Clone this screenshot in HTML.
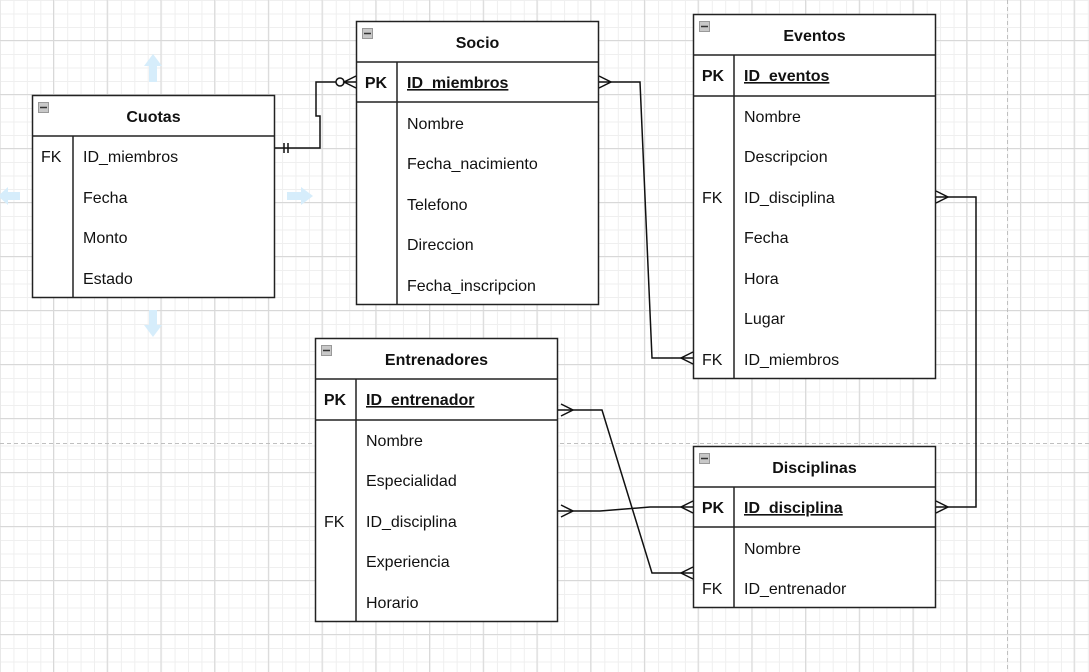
<!DOCTYPE html>
<html><head><meta charset="utf-8"><style>
html,body{margin:0;padding:0;background:#fff;}
svg{display:block;font-family:"Liberation Sans",Arial,sans-serif;}
</style></head><body>
<svg width="1089" height="672" viewBox="0 0 1089 672" xmlns="http://www.w3.org/2000/svg">
<defs>
<pattern id="minor" patternUnits="userSpaceOnUse" x="0" y="0" width="13.43" height="13.5">
<path d="M0.5 0V13.5M0 0.5H13.43" stroke="#efefef" stroke-width="1" fill="none"/>
</pattern>
<pattern id="major" patternUnits="userSpaceOnUse" x="53" y="40" width="53.72" height="54">
<path d="M0.5 0V54M0 0.5H53.72" stroke="#d8d8d8" stroke-width="1" fill="none"/>
</pattern>
</defs>
<rect width="1089" height="672" fill="#fff"/>
<rect width="1089" height="672" fill="url(#minor)"/>
<rect width="1089" height="672" fill="url(#major)"/>
<line x1="0" y1="443.5" x2="1089" y2="443.5" stroke="#c0c0c0" stroke-dasharray="4,3"/>
<line x1="1007.5" y1="0" x2="1007.5" y2="672" stroke="#c0c0c0" stroke-dasharray="4,3"/>

<!-- hover arrows -->
<g fill="#d6edfb">
<path d="M149 82V66h-5l9-12 9 12h-5v16z"/>
<path d="M287 192h14v-5l12 9-12 9v-5h-14z"/>
<path d="M149 310v15h-5l9 12 9-12h-5v-15z"/>
<path d="M20 192H8v-5l-10 9 10 9v-5h12z"/>
</g>

<g fill="#fff" stroke="#222" stroke-width="1.5">
<!-- Cuotas -->
<rect x="32.5" y="95.5" width="242" height="202"/>
<line x1="32.5" y1="136" x2="274.5" y2="136"/>
<line x1="73" y1="136" x2="73" y2="297.5"/>
<!-- Socio -->
<rect x="356.5" y="21.5" width="242" height="283"/>
<line x1="356.5" y1="62" x2="598.5" y2="62"/>
<line x1="356.5" y1="102" x2="598.5" y2="102"/>
<line x1="397" y1="62" x2="397" y2="304.5"/>
<!-- Eventos -->
<rect x="693.5" y="14.5" width="242" height="364"/>
<line x1="693.5" y1="55" x2="935.5" y2="55"/>
<line x1="693.5" y1="96" x2="935.5" y2="96"/>
<line x1="734" y1="55" x2="734" y2="378.5"/>
<!-- Entrenadores -->
<rect x="315.5" y="338.5" width="242" height="283"/>
<line x1="315.5" y1="379" x2="557.5" y2="379"/>
<line x1="315.5" y1="420" x2="557.5" y2="420"/>
<line x1="356" y1="379" x2="356" y2="621.5"/>
<!-- Disciplinas -->
<rect x="693.5" y="446.5" width="242" height="161"/>
<line x1="693.5" y1="487" x2="935.5" y2="487"/>
<line x1="693.5" y1="527" x2="935.5" y2="527"/>
<line x1="734" y1="487" x2="734" y2="607.5"/>
</g>

<!-- minus icons -->
<g fill="#c8c8c8" stroke="#999" stroke-width="1">
<rect x="38.5" y="102.5" width="10" height="10"/>
<rect x="362.5" y="28.5" width="10" height="10"/>
<rect x="699.5" y="21.5" width="10" height="10"/>
<rect x="321.5" y="345.5" width="10" height="10"/>
<rect x="699.5" y="453.5" width="10" height="10"/>
</g>
<g stroke="#333" stroke-width="1.5">
<line x1="40" y1="107.5" x2="47" y2="107.5"/>
<line x1="364" y1="33.5" x2="371" y2="33.5"/>
<line x1="701" y1="26.5" x2="708" y2="26.5"/>
<line x1="323" y1="350.5" x2="330" y2="350.5"/>
<line x1="701" y1="458.5" x2="708" y2="458.5"/>
</g>

<g font-size="16" fill="#111" text-anchor="middle" font-weight="bold">
<text x="153.5" y="122">Cuotas</text>
<text x="477.5" y="48">Socio</text>
<text x="814.5" y="41">Eventos</text>
<text x="436.5" y="365">Entrenadores</text>
<text x="814.5" y="473">Disciplinas</text>
<text x="376" y="88">PK</text>
<text x="713" y="81">PK</text>
<text x="335" y="405">PK</text>
<text x="713" y="513">PK</text>
</g>
<g font-size="16" fill="#111" font-weight="bold" text-decoration="underline">
<text x="407" y="88">ID_miembros</text>
<text x="744" y="81">ID_eventos</text>
<text x="366" y="405">ID_entrenador</text>
<text x="744" y="513">ID_disciplina</text>
</g>
<g font-size="16" fill="#111">
<text x="41" y="162">FK</text>
<text x="83" y="162">ID_miembros</text>
<text x="83" y="203">Fecha</text>
<text x="83" y="243">Monto</text>
<text x="83" y="284">Estado</text>

<text x="407" y="129">Nombre</text>
<text x="407" y="169">Fecha_nacimiento</text>
<text x="407" y="210">Telefono</text>
<text x="407" y="250">Direccion</text>
<text x="407" y="291">Fecha_inscripcion</text>

<text x="744" y="122">Nombre</text>
<text x="744" y="162">Descripcion</text>
<text x="702" y="203">FK</text>
<text x="744" y="203">ID_disciplina</text>
<text x="744" y="243">Fecha</text>
<text x="744" y="284">Hora</text>
<text x="744" y="324">Lugar</text>
<text x="702" y="365">FK</text>
<text x="744" y="365">ID_miembros</text>

<text x="366" y="446">Nombre</text>
<text x="366" y="486">Especialidad</text>
<text x="324" y="527">FK</text>
<text x="366" y="527">ID_disciplina</text>
<text x="366" y="567">Experiencia</text>
<text x="366" y="608">Horario</text>

<text x="744" y="554">Nombre</text>
<text x="702" y="594">FK</text>
<text x="744" y="594">ID_entrenador</text>
</g>

<!-- connectors -->
<g fill="none" stroke="#111" stroke-width="1.5">
<!-- Cuotas - Socio -->
<path d="M275 148H320V116H316V82H336"/>
<line x1="284" y1="143" x2="284" y2="153"/>
<line x1="288" y1="143" x2="288" y2="153"/>
<circle cx="340" cy="82" r="4" fill="#fff"/>
<path d="M356 76L344 82L356 88M344 82H356"/>
<!-- Socio - Eventos -->
<path d="M599 82H640L652 358H693"/>
<path d="M599 76L611 82L599 88"/>
<path d="M693 352L681 358L693 364"/>
<!-- Eventos - Disciplinas -->
<path d="M936 197H976V507H936"/>
<path d="M936 191L948 197L936 203"/>
<path d="M936 501L948 507L936 513"/>
<!-- Entrenadores PK - Disciplinas FK -->
<path d="M558 410H602L652 573H693"/>
<path d="M561 404L573 410L561 416"/>
<path d="M693 567L681 573L693 579"/>
<!-- Entrenadores FK - Disciplinas PK -->
<path d="M558 511H600L650 507H693"/>
<path d="M561 505L573 511L561 517"/>
<path d="M693 501L681 507L693 513"/>
</g>
</svg>
</body></html>
